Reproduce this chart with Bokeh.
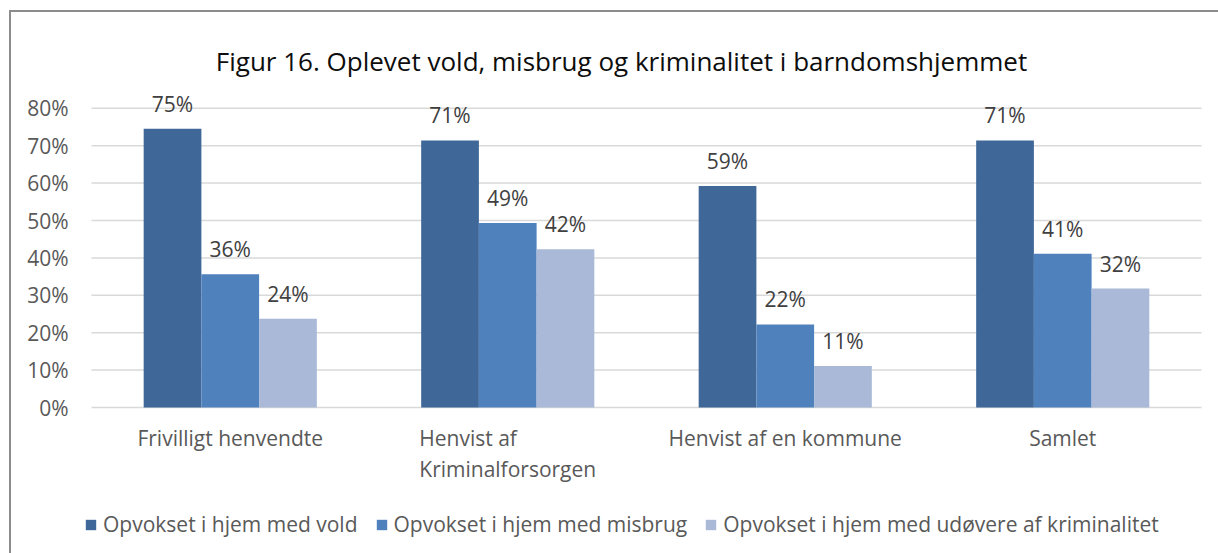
from bokeh.plotting import figure
from bokeh.models import (ColumnDataSource, Range1d, LabelSet, Label, Legend, LegendItem)
from bokeh.core.properties import value
from bokeh.embed import file_html
from bokeh.resources import INLINE

categories = ["Frivilligt henvendte", "Henvist af Kriminalforsorgen", "Henvist af en kommune", "Samlet"]
category_labels = ["Frivilligt henvendte", "Henvist af\nKriminalforsorgen", "Henvist af en kommune", "Samlet"]
series_names = ["Opvokset i hjem med vold", "Opvokset i hjem med misbrug",
                "Opvokset i hjem med udøvere af kriminalitet"]
vold = [74.5, 71.4, 59.2, 71.4]
misbrug = [35.6, 49.3, 22.2, 41.1]
kriminalitet = [23.7, 42.3, 11.1, 31.8]
y_ticks = [0, 10, 20, 30, 40, 50, 60, 70, 80]
title_text = "Figur 16. Oplevet vold, misbrug og kriminalitet i barndomshjemmet"

colors = ["#3f6898", "#4f81bd", "#a9b9d7"]
FONT = value("Open Sans")
FS = "21px"

# ---- layout constants (pixels) ----
W, H = 1218, 553
PX_X = 277.5          # pixels per category
PX_Y = 374.0          # pixels per 100 %
CAT0_X = 229.75       # canvas x of first category centre
ZERO_Y = 407.0        # canvas y of 0 %
x_start = -CAT0_X / PX_X
x_end = x_start + W / PX_X
y_end = ZERO_Y / PX_Y
y_start = y_end - H / PX_Y

p = figure(x_range=Range1d(x_start, x_end), y_range=Range1d(y_start, y_end),
           width=W, height=H, output_backend="svg", toolbar_location=None,
           min_border=0, background_fill_color="white", border_fill_color="white")
p.outline_line_color = None
p.axis.visible = False
p.grid.visible = False

n = len(categories)
xs = list(range(n))

# gridlines across the plot area
p.segment(x0=[-0.5] * len(y_ticks), x1=[n - 0.5] * len(y_ticks),
          y0=[t / 100 for t in y_ticks], y1=[t / 100 for t in y_ticks],
          line_color="#d9d9d9", line_width=1.5)

width = 0.208
offsets = [-width, 0, width]
renderers = []
for name, vals, off, col in zip(series_names, [vold, misbrug, kriminalitet], offsets, colors):
    src = ColumnDataSource(dict(x=[i + off for i in xs], top=[v / 100 for v in vals],
                                lbl=[f"{int(v + 0.5)}%" for v in vals]))
    r = p.vbar(x="x", top="top", width=width, source=src, fill_color=col, line_color=None)
    renderers.append((name, r))
    p.add_layout(LabelSet(x="x", y="top", text="lbl", source=src,
                          y_offset=17, text_align="center", text_baseline="alphabetic",
                          text_font=FONT, text_font_size=FS, text_color="#404040"))

# y tick labels
ysrc = ColumnDataSource(dict(x=[-0.5] * len(y_ticks), y=[t / 100 for t in y_ticks],
                             t=[f"{t}%" for t in y_ticks]))
p.add_layout(LabelSet(x="x", y="y", text="t", source=ysrc, x_offset=-23,
                      text_align="right", text_baseline="middle",
                      text_font=FONT, text_font_size=FS, text_color="#595959"))

# category labels
csrc = ColumnDataSource(dict(x=xs, y=[0] * n, t=category_labels))
p.add_layout(LabelSet(x="x", y="y", text="t", source=csrc, y_offset=-16,
                      text_align="center", text_baseline="top", text_line_height=1.13,
                      text_font=FONT, text_font_size=FS, text_color="#595959"))

# title
p.add_layout(Label(x=621, y=H - 60, x_units="screen", y_units="screen", text=title_text,
                   text_align="center", text_baseline="middle", text_font="Open Sans",
                   text_font_size="26px", text_color="#0d0d0d"))

# chart border (top and left)
top_b = y_end - 10.5 / PX_Y
left_b = x_start + 9.5 / PX_X
p.segment(x0=[left_b - 1 / PX_X, left_b], x1=[x_end, left_b],
          y0=[top_b, top_b], y1=[top_b, y_start],
          line_color="#8c8c8c", line_width=2)

legend = Legend(items=[LegendItem(label=nm, renderers=[r]) for nm, r in renderers],
                orientation="horizontal", location=(84, 15),
                glyph_width=13, glyph_height=13, label_standoff=6, spacing=17,
                padding=0, margin=0, border_line_color=None, background_fill_alpha=0,
                label_text_font="Open Sans", label_text_font_size=FS, label_text_color="#595959")
p.add_layout(legend, "center")

open("out.html", "w").write(file_html(p, INLINE))
